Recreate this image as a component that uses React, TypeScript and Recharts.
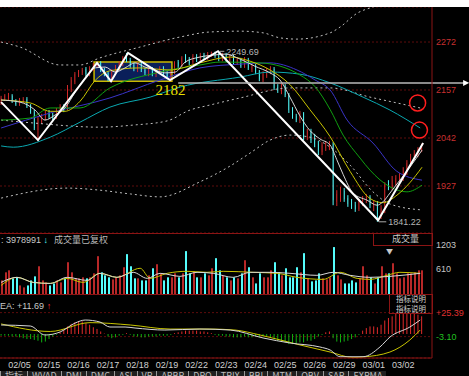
import React from 'react'
import {
  ComposedChart,
  Bar,
  Line,
  XAxis,
  YAxis,
  CartesianGrid,
  ReferenceArea,
  ReferenceLine,
  ReferenceDot,
} from 'recharts'

// 30-minute bars, index 0..114
const opens = [
  2126, 2135, 2138, 2143, 2131, 2123, 2131, 2135, 2119, 2104,
  2061, 2080, 2090, 2102, 2095, 2092, 2107, 2119, 2114, 2157,
  2176, 2193, 2198, 2207, 2195, 2207, 2214, 2222, 2205, 2198,
  2183, 2200, 2210, 2219, 2238, 2229, 2217, 2205, 2219, 2205,
  2195, 2207, 2193, 2200, 2210, 2198, 2183, 2200, 2224, 2214,
  2236, 2229, 2224, 2238, 2229, 2241, 2234, 2241, 2248, 2238,
  2231, 2241, 2226, 2236, 2222, 2229, 2214, 2229, 2205, 2214,
  2200, 2181, 2190, 2200, 2207, 2164, 2152, 2166, 2145, 2109,
  2095, 2083, 2100, 2042, 2059, 2040, 2028, 2008, 2018, 2020,
  2028, 1889, 1898, 1915, 1898, 1889, 1881, 1872, 1884, 1893,
  1901, 1877, 1884, 1857, 1869, 1932, 1922, 1936, 1941, 1946,
  1960, 1977, 1994, 2004, 2013,
]
const closes = [
  2138, 2143, 2145, 2131, 2123, 2133, 2135, 2119, 2104, 2066,
  2090, 2095, 2102, 2092, 2090, 2109, 2119, 2109, 2162, 2181,
  2195, 2200, 2205, 2195, 2210, 2217, 2222, 2205, 2195, 2186,
  2202, 2212, 2222, 2234, 2229, 2214, 2207, 2219, 2205, 2198,
  2207, 2195, 2202, 2210, 2195, 2188, 2200, 2222, 2214, 2234,
  2226, 2222, 2238, 2229, 2241, 2234, 2243, 2248, 2238, 2231,
  2241, 2229, 2236, 2222, 2229, 2214, 2231, 2210, 2214, 2200,
  2183, 2195, 2202, 2210, 2162, 2155, 2166, 2145, 2109, 2095,
  2085, 2102, 2042, 2059, 2037, 2028, 2013, 2025, 2030, 2028,
  1893, 1908, 1917, 1896, 1884, 1879, 1872, 1889, 1898, 1903,
  1881, 1886, 1860, 1874, 1929, 1922, 1941, 1946, 1951, 1965,
  1982, 1996, 2006, 2016, 2023,
]
const highs = [
  2143, 2147, 2150, 2147, 2135, 2138, 2140, 2140, 2123, 2109,
  2095, 2100, 2107, 2109, 2102, 2114, 2123, 2123, 2169, 2188,
  2200, 2205, 2210, 2212, 2214, 2222, 2224, 2226, 2210, 2202,
  2207, 2217, 2226, 2238, 2246, 2234, 2222, 2224, 2224, 2210,
  2212, 2212, 2207, 2214, 2214, 2202, 2205, 2226, 2229, 2238,
  2243, 2236, 2243, 2243, 2246, 2246, 2248, 2249, 2249, 2249.69,
  2246, 2246, 2241, 2241, 2234, 2234, 2236, 2234, 2219, 2219,
  2205, 2202, 2210, 2214, 2212, 2171, 2174, 2171, 2150, 2116,
  2100, 2107, 2104, 2064, 2064, 2052, 2035, 2032, 2035, 2035,
  2032, 1917, 1925, 1922, 1905, 1896, 1889, 1896, 1903, 1908,
  1905, 1893, 1891, 1881, 1936, 1941, 1951, 1953, 1958, 1972,
  1989, 2004, 2013, 2020, 2028,
]
const lows = [
  2121, 2131, 2133, 2126, 2119, 2119, 2126, 2114, 2100, 2061,
  2035, 2076, 2085, 2088, 2083, 2088, 2102, 2104, 2109, 2152,
  2171, 2188, 2193, 2190, 2190, 2202, 2210, 2200, 2190, 2178,
  2178, 2195, 2205, 2214, 2224, 2210, 2202, 2200, 2200, 2193,
  2190, 2190, 2188, 2195, 2190, 2183, 2178, 2195, 2210, 2210,
  2222, 2217, 2219, 2224, 2224, 2229, 2229, 2236, 2234, 2226,
  2226, 2224, 2222, 2217, 2217, 2210, 2210, 2205, 2200, 2195,
  2178, 2176, 2186, 2195, 2157, 2150, 2147, 2140, 2102, 2088,
  2080, 2078, 2037, 2037, 2030, 2020, 2001, 2001, 2011, 2013,
  1881, 1879, 1889, 1889, 1877, 1872, 1865, 1867, 1879, 1886,
  1874, 1867, 1841.22, 1848, 1862, 1917, 1917, 1929, 1934, 1939,
  1953, 1972, 1989, 1996, 2008,
]
const volumes = [
  333, 531, 580, 383, 408, 210, 161, 210, 333, 432,
  679, 333, 284, 210, 259, 333, 284, 383, 778, 531,
  383, 383, 408, 383, 408, 506, 926, 531, 457, 408,
  358, 408, 457, 655, 976, 679, 383, 383, 333, 333,
  457, 630, 729, 506, 333, 408, 408, 506, 408, 506,
  1050, 506, 556, 408, 408, 506, 457, 630, 877, 580,
  457, 408, 333, 408, 383, 506, 827, 655, 408, 259,
  506, 408, 408, 580, 778, 531, 457, 630, 408, 408,
  655, 531, 1000, 383, 309, 333, 506, 383, 358, 408,
  1149, 457, 358, 259, 259, 333, 284, 383, 679, 457,
  408, 259, 408, 679, 506, 506, 753, 506, 383, 408,
  506, 506, 531, 580, 580,
]
const macdHist = [
  -2, -2, -2, -3, -3, -4, -5, -6, -6, -7,
  -8, -10, -9, -6, -3, -1, 2, 5, 9, 12,
  14, 15, 15, 13, 11, 8, 6, 3, 0.5, -3,
  -5, -4, -2, -1, 1, -1, -3, -3, -4, -4,
  -3, -3, -3, -2, -2, -2, -1, 1, 2, 3,
  4, 4, 4, 4, 3, 3, 2, 1, -1, -2,
  -2, -3, -3, -4, -4, -4, -3, -4, -4, -3,
  -4, -3, -3, -4, -6, -8, -9, -10, -12, -12,
  -11, -10, -10, -8, -8, -6, -3, -1, 2, 3,
  -5, -9, -10, -9, -8, -6, -4, -1, 4, 7,
  9, 9, 8, 11, 16, 19, 21, 24, 25, 25,
  24, 24, 24, 23, 21,
]

const dateTicks = [5, 13, 21, 29, 37, 45, 53, 61, 69, 77, 85, 93, 101, 109]
const dateLabels = ['02/05', '02/15', '02/16', '02/17', '02/18', '02/19', '02/22', '02/23', '02/24', '02/25', '02/26', '02/29', '03/01', '03/02']
const priceTicks = [1927, 2042, 2157, 2272]
const volTicks = [610, 1203]
const macdTicks = [-3.1, 25.39]

// [bar index, value]
const ma5 = [[0, 2133], [5.1, 2128], [9.2, 2109], [11.9, 2085], [14.6, 2097], [17.3, 2114], [20.1, 2152], [22.8, 2186], [25.5, 2210], [28.2, 2212], [30.9, 2200], [33.6, 2210], [36.3, 2222], [39, 2212], [41.7, 2205], [44.4, 2198], [47.2, 2200], [49.9, 2224], [53.9, 2236], [58, 2241], [60.7, 2243], [64.8, 2231], [68.8, 2214], [72.9, 2198], [75.6, 2181], [78.3, 2140], [81, 2095], [83.7, 2060], [86.4, 2040], [89.2, 2025], [91, 1990], [92.7, 1955], [95.4, 1910], [99.2, 1893], [101.9, 1881], [103.5, 1889], [105.4, 1910], [108.1, 1941], [110.8, 1972], [114.1, 2013]]
const ma10 = [[0, 2133], [7.9, 2126], [13.3, 2106], [17.3, 2106], [21.4, 2130], [25.5, 2180], [29.5, 2203], [37.7, 2210], [45.8, 2205], [53.9, 2222], [62.1, 2236], [67.5, 2226], [72.9, 2205], [78.3, 2170], [83.7, 2110], [89.2, 2045], [94.6, 1962], [100, 1897], [103.5, 1887], [107.3, 1905], [110.8, 1935], [114.1, 1972]]
const ma20 = [[0, 2085], [7.9, 2090], [13.3, 2114], [21.4, 2114], [29.5, 2162], [43.1, 2200], [53.9, 2217], [59.4, 2224], [70.2, 2222], [81, 2193], [85.1, 2165], [89.2, 2110], [92.7, 2049], [97.3, 1994], [100, 1965], [105.4, 1925], [110, 1913], [114.1, 1929]]
const ma30 = [[0, 2066], [13.3, 2102], [29.5, 2138], [43.1, 2181], [53.9, 2210], [64.8, 2219], [72.9, 2222], [80.2, 2205], [85.1, 2181], [89.2, 2157], [93.8, 2085], [100.8, 2030], [107.3, 1962], [114.1, 1941]]
const ma60 = [[0, 2023], [3.3, 2020], [13.3, 2044], [21.4, 2080], [29.5, 2116], [40.4, 2140], [48.5, 2164], [64.8, 2188], [72.9, 2200], [81, 2195], [89.2, 2174], [98.1, 2140], [105.4, 2109], [113.6, 2066]]
const bandUpper = [[0, 2272], [5.1, 2260], [16, 2217], [21.4, 2217], [26.8, 2234], [37.7, 2260], [48.5, 2284], [56.6, 2296], [64.8, 2298], [71, 2294], [75.6, 2282], [80.2, 2279], [89.2, 2294], [91.9, 2308], [96.5, 2341], [100.8, 2356], [105.4, 2370], [114.1, 2385]]
const bandMid = [[0, 2085], [8.7, 2078], [26.8, 2068], [35.8, 2073], [45, 2083], [51.2, 2109], [56.6, 2121], [64.8, 2138], [78.3, 2162], [89.2, 2162], [100, 2140], [107.3, 2126], [113.6, 2114]]
const bandLower = [[0, 1898], [17.9, 1922], [26.8, 1917], [35, 1908], [43.1, 1901], [53.9, 1937], [62.1, 1975], [67.5, 2006], [72.9, 2037], [78.3, 2049], [83.7, 2044], [89.2, 2020], [94.6, 1977], [100.8, 1913], [105.4, 1884], [113.6, 1870]]
const zigzag = [[0, 2128], [10, 2037], [26, 2222], [29.8, 2178], [34.4, 2246], [45.8, 2181], [58.8, 2250], [102.2, 1845], [114.4, 2030]]
const volMa5 = [[0, 284], [4.3, 408], [8.7, 284], [13.3, 259], [17.9, 408], [23.3, 333], [26.8, 506], [31.4, 408], [35.8, 531], [39.6, 383], [43.1, 506], [48.5, 432], [53.1, 531], [57.5, 506], [62.9, 408], [67.5, 531], [72.9, 531], [78.3, 506], [85.6, 457], [90, 531], [94.6, 457], [100, 408], [105.4, 432], [113.6, 506]]
const volMa10 = [[0, 210], [4.3, 408], [8.7, 284], [13.3, 259], [17.9, 383], [22.2, 284], [26.8, 506], [31.4, 408], [37.7, 630], [40.4, 383], [45, 506], [50.4, 556], [55.8, 531], [60.2, 556], [68.3, 531], [74.8, 506], [80.2, 408], [87.3, 358], [91.9, 531], [96.5, 383], [100, 358], [104.6, 457], [108.1, 531], [113.6, 506]]
const dif = [[0, 10.7], [7.9, 9.5], [11.9, -1.2], [16, 2.4], [20.1, 13.1], [22.8, 16.6], [26.8, 14.2], [29.5, 8.3], [33.6, 8.3], [36.3, 7.1], [44.4, 4.7], [53.9, 5.9], [62.1, 4.7], [71, -4.7], [78.3, -10.7], [86.4, -15.4], [89.2, -19], [91.9, -27], [98.1, -27], [102.7, -15.4], [105.4, -3.6], [110.8, 8.3], [113.6, 16.6]]
const dea = [[0, 12], [13.3, 3], [24.1, 13.5], [35, 10.7], [45.8, 5.9], [56.6, 5.9], [63.4, 4.7], [70.2, -1.2], [81, -13], [89.2, -21.4], [95.4, -28], [98.1, -27.3], [105.4, -21.4], [110.8, -7.1], [113.6, 4.7]]

const X_DOMAIN: [number, number] = [-0.3, 116.8]
const RED = '#d42a2a'
const VOL_RED = '#b82828'
const CYAN = '#54fcfc'
const GRID = '#5e0c0c'
const FRAME = '#8b1414'
const FONT = '"Liberation Sans", Arial, sans-serif'
const CJK = '"Noto Sans CJK SC", sans-serif'

const rows = opens.map((o, i) => ({
  i,
  open: o,
  close: closes[i],
  high: highs[i],
  low: lows[i],
  range: [lows[i], highs[i]],
  vol: volumes[i],
  hist: macdHist[i],
  up: closes[i] >= o,
}))

const toPts = (a: number[][]) => a.map(([i, v]) => ({ i, v }))

function Candle(props: any) {
  const { x, y, width, height, payload } = props
  if (!payload || x == null) return null
  const top = Math.min(y, y + height)
  const h = Math.abs(height)
  const { open, close, high, low } = payload
  const span = high - low || 1
  const yOf = (v: number) => top + ((high - v) / span) * h
  const color = close >= open ? RED : CYAN
  const cx = x + width / 2
  const b1 = yOf(Math.max(open, close))
  const b2 = yOf(Math.min(open, close))
  return (
    <g>
      <line x1={cx} x2={cx} y1={top} y2={top + h} stroke={color} strokeWidth={1} />
      <rect x={x} y={b1} width={width} height={Math.max(1, b2 - b1)} fill={color} />
    </g>
  )
}

function VolBar(props: any) {
  const { x, y, width, height, payload } = props
  if (!payload || x == null) return null
  return <rect x={Math.round(x)} y={Math.min(y, y + height)} width={2} height={Math.abs(height)} fill={payload.up ? VOL_RED : CYAN} />
}

function HistBar(props: any) {
  const { x, y, width, height, payload } = props
  if (!payload || x == null) return null
  const cx = x + width / 2
  return <line x1={cx} x2={cx} y1={y} y2={y + height} stroke={payload.hist >= 0 ? '#e02a2a' : '#10b010'} strokeWidth={1} />
}

function MacdTick(props: any) {
  const { x, y, payload } = props
  const v = payload.value
  return (
    <text x={x} y={y} dy={3} fill={v > 0 ? '#e03030' : '#20c020'} fontSize={9} fontFamily={FONT} textAnchor="start">
      {v > 0 ? '+' + v.toFixed(2) : v.toFixed(2)}
    </text>
  )
}

function Arrow(props: any) {
  const { cx, cy } = props
  return <polygon points={`${cx - 5},${cy - 3} ${cx + 1},${cy} ${cx - 5},${cy + 3}`} fill="#ffffff" />
}

function line(data: number[][], color: string, dash?: string, width = 1, type: any = 'monotone') {
  return (
    <Line
      data={toPts(data)}
      dataKey="v"
      type={type}
      stroke={color}
      strokeWidth={width}
      strokeDasharray={dash}
      dot={false}
      activeDot={false}
      isAnimationActive={false}
    />
  )
}

function PriceChart() {
  return (
    <ComposedChart width={469} height={226} data={rows} margin={{ top: 0, right: 0, bottom: 0, left: 0 }}>
      <CartesianGrid vertical={false} stroke={GRID} strokeDasharray="2 2" />
      <XAxis dataKey="i" type="number" domain={X_DOMAIN} allowDataOverflow hide />
      <YAxis
        orientation="right"
        width={37}
        type="number"
        domain={[1814.4, 2355.9]}
        allowDataOverflow
        ticks={priceTicks}
        tickSize={2}
        tickLine={false}
        axisLine={{ stroke: FRAME }}
        tick={{ fill: '#c83030', fontSize: 9, fontFamily: FONT }}
      />
      <ReferenceArea x1={25.2} x2={46.3} y1={2178} y2={2224} fill="#0d2a78" fillOpacity={0.75} stroke="#c8b800" strokeWidth={1.5} />
      <Bar dataKey="range" barSize={3} shape={Candle} isAnimationActive={false} />
      {line(bandUpper, '#bdbdbd', '2 3')}
      {line(bandMid, '#bdbdbd', '2 3')}
      {line(bandLower, '#bdbdbd', '2 3')}
      {line(ma60, '#0aa8b0')}
      {line(ma30, '#3a34c8')}
      {line(ma20, '#10a010')}
      {line(ma10, '#c8c400')}
      {line(ma5, '#d8d8d8')}
      {line(zigzag, '#ffffff', undefined, 2, 'linear')}
      <ReferenceLine segment={[{ x: 48, y: 2174 }, { x: 125.5, y: 2174 }]} stroke="#b8b8b8" strokeWidth={1.5} ifOverflow="visible" />
      <ReferenceDot x={126.6} y={2174} r={3} shape={Arrow} ifOverflow="visible" />
      <ReferenceDot
        x={45.9}
        y={2159}
        r={1}
        fill="none"
        stroke="none"
        label={{ value: '2182', position: 'center', fill: '#e8e000', fontSize: 15, fontFamily: '"Liberation Serif", serif' }}
      />
      <ReferenceLine segment={[{ x: 59.3, y: 2249.69 }, { x: 60.5, y: 2249.69 }]} stroke="#aaaaaa" />
      <ReferenceDot x={60.5} y={2249.69} r={1} fill="none" stroke="none" label={{ value: '2249.69', position: 'right', offset: 1, fill: '#b4b4b4', fontSize: 9, fontFamily: FONT }} />
      <ReferenceLine segment={[{ x: 102.4, y: 1841.22 }, { x: 104.4, y: 1841.22 }]} stroke="#aaaaaa" />
      <ReferenceDot x={104.4} y={1841.22} r={1} fill="none" stroke="none" label={{ value: '1841.22', position: 'right', offset: 1, fill: '#b4b4b4', fontSize: 9, fontFamily: FONT }} />
      <ReferenceDot x={112.9} y={2126} r={8} fill="none" stroke="#ff1e1e" strokeWidth={1.5} ifOverflow="visible" />
      <ReferenceDot x={113.4} y={2061} r={8} fill="none" stroke="#ff1e1e" strokeWidth={1.5} ifOverflow="visible" />
    </ComposedChart>
  )
}

function VolumeChart() {
  return (
    <ComposedChart width={469} height={61} data={rows} margin={{ top: 0, right: 0, bottom: 0, left: 0 }}>
      <XAxis dataKey="i" type="number" domain={X_DOMAIN} allowDataOverflow hide />
      <YAxis
        orientation="right"
        width={37}
        type="number"
        domain={[0, 1494]}
        allowDataOverflow
        ticks={volTicks}
        tickSize={2}
        tickLine={false}
        axisLine={{ stroke: FRAME }}
        tick={{ fill: '#c4c4c4', fontSize: 9, fontFamily: FONT }}
      />
      <Bar dataKey="vol" barSize={2} shape={VolBar} isAnimationActive={false} />
      {line(volMa10, '#c8c400')}
      {line(volMa5, '#d8d8d8')}
    </ComposedChart>
  )
}

function MacdChart() {
  return (
    <ComposedChart width={469} height={78} data={rows} margin={{ top: 0, right: 0, bottom: 0, left: 0 }}>
      <CartesianGrid vertical={false} stroke={GRID} strokeDasharray="2 2" />
      <XAxis
        dataKey="i"
        type="number"
        domain={X_DOMAIN}
        allowDataOverflow
        ticks={dateTicks}
        tickFormatter={(v: number) => dateLabels[dateTicks.indexOf(v)] ?? ''}
        height={14}
        tickSize={2}
        tickLine={false}
        axisLine={{ stroke: FRAME }}
        tick={{ fill: '#d0d0d0', fontSize: 9, fontFamily: FONT }}
        interval={0}
      />
      <YAxis
        orientation="right"
        width={37}
        type="number"
        domain={[-28.5, 47.5]}
        allowDataOverflow
        ticks={macdTicks}
        tickSize={2}
        tickLine={false}
        axisLine={{ stroke: FRAME }}
        tick={MacdTick}
      />
      <Bar dataKey="hist" barSize={1} shape={HistBar} isAnimationActive={false} />
      {line(dea, '#c8c400')}
      {line(dif, '#d8d8d8')}
    </ComposedChart>
  )
}

const abs = (left: number, top: number, extra: React.CSSProperties = {}): React.CSSProperties => ({
  position: 'absolute',
  left,
  top,
  ...extra,
})

export default function App() {
  const tabs = ['指标', 'WVAD', 'DMI', 'DMC', 'ASI', 'VR', 'ARBR', 'DPO', 'TRIX', 'BBI', 'MTM', 'OBV', 'SAR', 'EXPMA']
  return (
    <div style={abs(0, 0, { width: 469, height: 376, background: '#000', overflow: 'hidden', fontFamily: FONT })}>
      <div style={abs(0, 0, { width: 469, height: 7, background: '#fff' })} />
      <div style={abs(0, 7)}>
        <PriceChart />
      </div>
      <div style={abs(0, 233)}>
        <VolumeChart />
      </div>
      <div style={abs(0, 294)}>
        <MacdChart />
      </div>
      <div style={abs(0, 233, { width: 432, height: 1, background: FRAME })} />
      <div style={abs(0, 294, { width: 432, height: 1, background: FRAME })} />

      <div style={abs(1, 234, { fontSize: 9, lineHeight: '11px', color: '#c8c8c8', whiteSpace: 'nowrap' })}>
        : 3978991 <span style={{ color: CYAN }}>↓</span>
        <span style={{ fontFamily: CJK, color: '#b8b8b8', marginLeft: 6 }}>成交量已复权</span>
      </div>
      <div style={abs(373, 233, { width: 58, height: 12, border: `1px solid ${FRAME}`, borderTop: 'none', fontSize: 9, lineHeight: '12px', color: '#c8c8c8', fontFamily: CJK })}>
        <span style={{ marginLeft: 18 }}>成交量</span>
        <span style={{ marginLeft: 12, fontSize: 7 }}>▼</span>
      </div>

      <div style={abs(0, 301, { fontSize: 9, lineHeight: '11px', color: '#c8c8c8', whiteSpace: 'nowrap' })}>
        EA: +11.69 <span style={{ color: '#ff3030' }}>↑</span>
      </div>
      <div style={abs(389, 294, { width: 42, height: 19, border: `1px solid ${FRAME}`, borderTop: 'none', fontSize: 7.5, lineHeight: '9.5px', color: '#d0d0d0', fontFamily: CJK, textAlign: 'center' })}>
        <div style={{ height: 9.5 }}>指标说明</div>
        <div style={{ height: 9.5 }}>指标说明</div>
      </div>

      <div style={abs(0, 371, { width: 469, height: 5, overflow: 'hidden', whiteSpace: 'nowrap', fontSize: 9, lineHeight: '10px', color: '#bdbdbd', fontFamily: CJK })}>
        {tabs.map((t) => (
          <span key={t} style={{ display: 'inline-block', padding: '0 4px', borderLeft: '1px solid #9a9a9a', background: '#202020' }}>
            {t}
          </span>
        ))}
      </div>
    </div>
  )
}
